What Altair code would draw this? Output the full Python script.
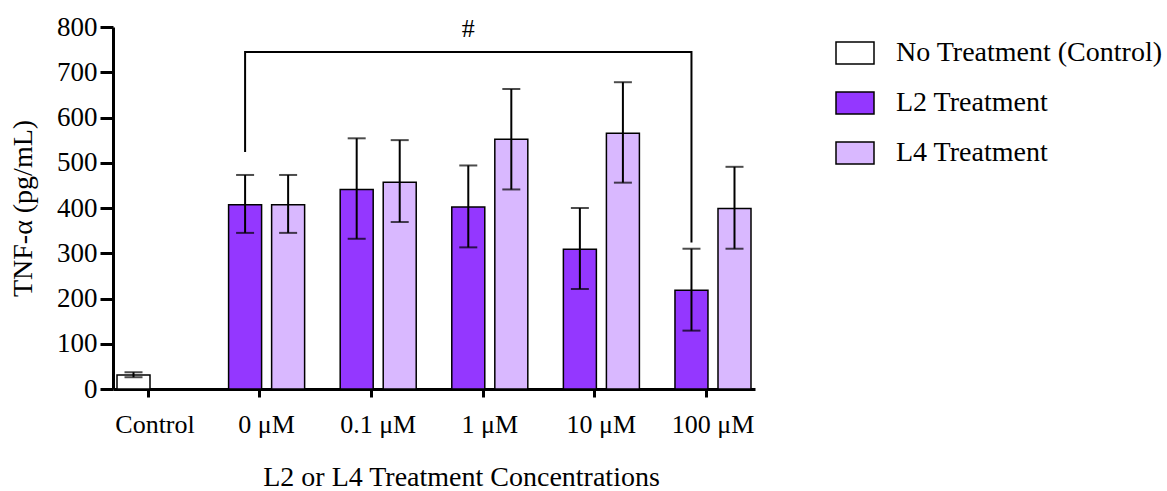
import altair as alt
import pandas as pd

# ---- data ----
groups = ["Control", "0 μM", "0.1 μM", "1 μM", "10 μM", "100 μM"]
conc_groups = ["0 μM", "0.1 μM", "1 μM", "10 μM", "100 μM"]
series_names = ["No Treatment (Control)", "L2 Treatment", "L4 Treatment"]

control_mean = 31
control_lo = 26
control_hi = 37

l2_mean = [407, 441, 402, 309, 218]
l2_lo = [345, 332, 313, 221, 129]
l2_hi = [473, 554, 494, 400, 310]

l4_mean = [407, 457, 552, 565, 399]
l4_lo = [345, 369, 441, 456, 310]
l4_hi = [473, 550, 663, 678, 491]

# significance bracket (0 μM L2 vs 100 μM L2)
bracket_groups = ["0 μM", "0 μM", "100 μM", "100 μM"]
bracket_values = [524, 745, 745, 324]
bracket_label = "#"
bracket_label_group = "1 μM"
bracket_label_value = 796

colors = ["#FFFFFF", "#9437FF", "#D9B8FF"]

# ---- build table ----
rows = [dict(group="Control", series=series_names[0], slot="a",
             mean=control_mean, lo=control_lo, hi=control_hi)]
for g, m, lo, hi in zip(conc_groups, l2_mean, l2_lo, l2_hi):
    rows.append(dict(group=g, series=series_names[1], slot="a", mean=m, lo=lo, hi=hi))
for g, m, lo, hi in zip(conc_groups, l4_mean, l4_lo, l4_hi):
    rows.append(dict(group=g, series=series_names[2], slot="b", mean=m, lo=lo, hi=hi))
df = pd.DataFrame(rows)

bracket_df = pd.DataFrame(dict(group=bracket_groups, value=bracket_values,
                               slot=["a"] * 4, order=list(range(4))))
label_df = pd.DataFrame(dict(group=[bracket_label_group], value=[bracket_label_value],
                             slot=["a"], text=[bracket_label]))

FONT = "Liberation Serif"

x_enc = alt.X("group:N", sort=groups,
              scale=alt.Scale(domain=groups, paddingInner=0.247, paddingOuter=0),
              axis=alt.Axis(title="L2 or L4 Treatment Concentrations", labelAngle=0,
                            tickSize=8, labelPadding=14, titlePadding=26,
                            titleX=348, titleAlign="center",
                            labelFontSize=26, titleFontSize=28, bandPosition=0.42))
xoff = alt.XOffset("slot:N", scale=alt.Scale(domain=["a", "b"], paddingInner=0.233,
                                             paddingOuter=0.093))
y_scale = alt.Scale(domain=[0, 800], nice=False)

bars = alt.Chart(df).mark_bar(stroke="black", strokeWidth=1.5).encode(
    x=x_enc,
    xOffset=xoff,
    y=alt.Y("mean:Q", scale=y_scale,
            axis=alt.Axis(title="TNF-α (pg/mL)", values=list(range(0, 801, 100)),
                          tickSize=13, labelPadding=3, titlePadding=19,
                          labelFontSize=27, titleFontSize=28, grid=False)),
    fill=alt.Fill("series:N", scale=alt.Scale(domain=series_names, range=colors),
                  legend=alt.Legend(title=None, orient="none", legendX=722, legendY=6,
                                    symbolType="M-1,-0.579L1,-0.579L1,0.579L-1,0.579Z",
                                    symbolSize=1444, symbolStrokeColor="black",
                                    symbolStrokeWidth=1.5, symbolOpacity=1,
                                    labelFontSize=28, labelFont=FONT, labelColor="black",
                                    labelLimit=400, labelOffset=21, rowPadding=15,
                                    padding=0)),
)

rules = alt.Chart(df).mark_rule(color="black", strokeWidth=2).encode(
    x=alt.X("group:N", sort=groups),
    xOffset=alt.XOffset("slot:N"),
    y=alt.Y("lo:Q"),
    y2="hi:Q",
)
caps_hi = alt.Chart(df).mark_tick(color="black", thickness=2, size=18).encode(
    x=alt.X("group:N", sort=groups),
    xOffset=alt.XOffset("slot:N"),
    y=alt.Y("hi:Q"),
)
caps_lo = alt.Chart(df).mark_tick(color="black", thickness=2, size=18).encode(
    x=alt.X("group:N", sort=groups),
    xOffset=alt.XOffset("slot:N"),
    y=alt.Y("lo:Q"),
)
bracket = alt.Chart(bracket_df).mark_line(color="black", strokeWidth=2).encode(
    x=alt.X("group:N", sort=groups),
    xOffset=alt.XOffset("slot:N"),
    y=alt.Y("value:Q"),
    order="order:Q",
)
label = alt.Chart(label_df).mark_text(font=FONT, fontSize=26, color="black",
                                      baseline="middle").encode(
    x=alt.X("group:N", sort=groups),
    xOffset=alt.XOffset("slot:N"),
    y=alt.Y("value:Q"),
    text="text:N",
)

chart = alt.layer(bars, rules, caps_hi, caps_lo, bracket, label).properties(
    width=642, height=362,
    padding={"left": 113, "top": 27, "right": 412, "bottom": 102},
    autosize="none",
    background="white",
).configure_view(stroke=None).configure_axis(
    domainColor="black", domainWidth=3, tickColor="black", tickWidth=3,
    labelFont=FONT, titleFont=FONT, labelColor="black", titleColor="black",
    titleFontWeight="normal", grid=False,
)

chart.save("out.html", embed_options={"renderer": "svg", "actions": False})
